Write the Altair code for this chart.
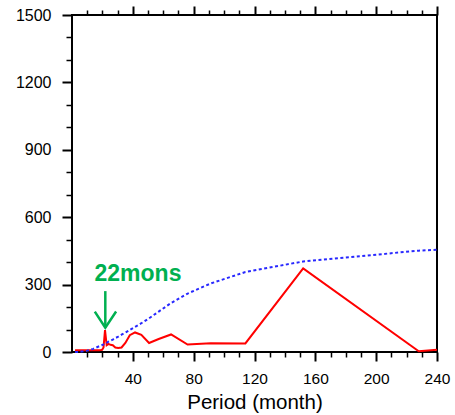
import altair as alt
import pandas as pd

# ---- data ----
periods = [2, 3, 4, 5, 6, 8, 10, 12, 14, 16, 18, 19.0, 19.83, 20.73, 21.71, 22.8, 24.0,
           25.33, 26.82, 28.5, 30.4, 32.57, 35.08, 38.0, 41.45, 45.6, 50.67, 57.0,
           65.14, 76.0, 91.2, 114.0, 152.0, 228.0, 240.0]
red_power = [8, 8, 8, 8, 8, 8, 8, 8, 8, 8, 8, 9, 10, 20, 98, 30, 36,
             32, 30, 20, 18, 20, 40, 75, 87, 76, 40, 58,
             78, 33, 39, 38, 372, 3, 10]
blue_power = [0, 0, 0, 1, 2, 3, 6, 10, 14, 20, 26, 29, 31, 34, 37, 41, 46,
              50, 55, 62, 68, 77, 86, 98, 112, 128, 150, 180,
              218, 260, 305, 356, 403, 451, 455]

x_major_ticks = [40, 80, 120, 160, 200, 240]
x_minor_ticks = [v for v in range(10, 240, 10) if v % 40 != 0]
y_major_ticks = [0, 300, 600, 900, 1200, 1500]
y_minor_ticks = [v for v in range(100, 1500, 100) if v % 300 != 0]

label_text = ["22mons"]
label_x = [14.8]
label_y = [316]
arrow_shaft_x = [21.9]
arrow_shaft_y = [271]
arrow_shaft_y2 = [108]
arrow_head_x = [15.0, 21.9, 29.0]
arrow_head_y = [180, 108, 180]

df = pd.DataFrame({"period": periods, "power": red_power, "sig": blue_power})

FONT = "Liberation Sans"
xscale = alt.Scale(domain=[0, 240], nice=False, zero=False)
yscale = alt.Scale(domain=[0, 1500], nice=False)

x_main_axis = alt.Axis(orient="bottom", values=x_major_ticks, tickSize=9, tickWidth=2,
                       tickColor="black", domain=False, grid=False, labelFont=FONT,
                       labelFontSize=15.5, labelColor="black", labelPadding=10,
                       labelFlush=False, format="d", title="Period (month)", titleFont=FONT,
                       titleFontSize=20.5, titleFontWeight="normal", titleColor="black",
                       titleY=56, titleBaseline="alphabetic")
y_main_axis = alt.Axis(orient="left", values=y_major_ticks, tickSize=10, tickWidth=2,
                       tickColor="black", domain=False, grid=False, labelFont=FONT,
                       labelFontSize=16, labelColor="black", labelPadding=11,
                       labelFlush=False, format="d", title=None)

red = alt.Chart(df).mark_line(color="#ff0000", strokeWidth=2).encode(
    x=alt.X("period:Q", scale=xscale, axis=x_main_axis),
    y=alt.Y("power:Q", scale=yscale, axis=y_main_axis),
)

blue = alt.Chart(df).mark_line(color="#2828ff", strokeWidth=2, strokeDash=[3, 2.5]).encode(
    x=alt.X("period:Q", scale=xscale, axis=None),
    y=alt.Y("sig:Q", scale=yscale, axis=None),
)

minor = alt.Chart(df).mark_line(strokeOpacity=0).encode(
    x=alt.X("period:Q", scale=xscale,
            axis=alt.Axis(orient="bottom", values=x_minor_ticks, tickSize=5, tickWidth=1.5,
                          tickColor="black", labels=False, domain=False, grid=False, title=None)),
    y=alt.Y("sig:Q", scale=yscale,
            axis=alt.Axis(orient="left", values=y_minor_ticks, tickSize=6, tickWidth=1.5,
                          tickColor="black", labels=False, domain=False, grid=False, title=None)),
)

top_major = alt.Chart(df).mark_line(strokeOpacity=0).encode(
    x=alt.X("period:Q", scale=xscale,
            axis=alt.Axis(orient="top", values=x_major_ticks, tickSize=9, tickWidth=2,
                          tickColor="black", labels=False, domain=False, grid=False, title=None)),
    y=alt.Y("sig:Q", scale=yscale, axis=None),
)

top_minor = alt.Chart(df).mark_line(strokeOpacity=0).encode(
    x=alt.X("period:Q", scale=xscale,
            axis=alt.Axis(orient="top", values=x_minor_ticks, tickSize=5, tickWidth=1.5,
                          tickColor="black", labels=False, domain=False, grid=False, title=None)),
    y=alt.Y("sig:Q", scale=yscale, axis=None),
)

ann_df = pd.DataFrame({"x": label_x, "y": label_y, "t": label_text})
ann = alt.Chart(ann_df).mark_text(align="left", baseline="alphabetic", font=FONT,
                                  fontSize=23, fontWeight="bold", color="#00b050").encode(
    x=alt.X("x:Q", scale=xscale, axis=None),
    y=alt.Y("y:Q", scale=yscale, axis=None),
    text="t:N",
)

shaft_df = pd.DataFrame({"x": arrow_shaft_x, "y": arrow_shaft_y, "y2": arrow_shaft_y2})
shaft = alt.Chart(shaft_df).mark_rule(color="#00b050", strokeWidth=2.5).encode(
    x=alt.X("x:Q", scale=xscale, axis=None),
    y=alt.Y("y:Q", scale=yscale, axis=None),
    y2="y2:Q",
)

head_df = pd.DataFrame({"x": arrow_head_x, "y": arrow_head_y, "o": [0, 1, 2]})
head = alt.Chart(head_df).mark_line(color="#00b050", strokeWidth=2.5, strokeJoin="miter").encode(
    x=alt.X("x:Q", scale=xscale, axis=None),
    y=alt.Y("y:Q", scale=yscale, axis=None),
    order="o:Q",
)

chart = alt.layer(red, blue, minor, top_major, top_minor, ann, shaft, head).resolve_axis(
    x="independent", y="independent"
).properties(
    width=365, height=337,
    padding={"left": 72, "top": 15, "right": 18, "bottom": 63},
    autosize=alt.AutoSizeParams(type="none"),
    background="white",
).configure_view(stroke="black", strokeWidth=2)

chart.save("out.html", embed_options={"renderer": "svg", "actions": False})
